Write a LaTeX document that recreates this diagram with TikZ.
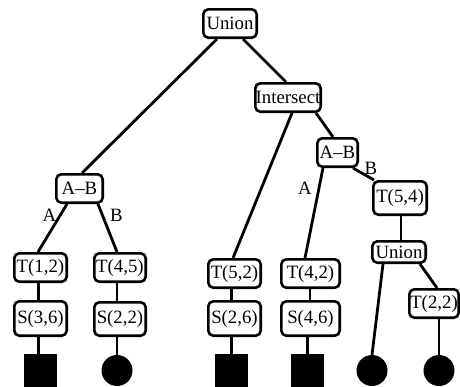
\documentclass[tikz,border=0pt]{standalone}
\usepackage{fontspec}
\setmainfont{Liberation Serif}
\tikzset{
  box/.style={draw, rounded corners=5pt, line width=2.6pt, inner sep=0pt,
    font=\fontsize{18.8}{21}\selectfont, fill=white},
  lbl/.style={inner sep=0pt, font=\fontsize{18.8}{21}\selectfont},
  edge/.style={line width=2.8pt},
  sqleaf/.style={fill=black, inner sep=0pt, minimum size=33pt},
  cleaf/.style={circle, fill=black, inner sep=0pt, minimum size=31pt}
}
\begin{document}
\begin{tikzpicture}[x=1pt,y=-1pt]
\useasboundingbox (0,0) rectangle (460,386);
% internal nodes
\node[box, minimum width=53.4pt, minimum height=28.4pt] (u1) at (230,23.5) {Union};
\node[box, minimum width=65.4pt, minimum height=28.4pt] (is) at (288,97.5) {Intersect};
\node[box, minimum width=46.4pt, minimum height=28.4pt] (ab1) at (79.5,188.5) {A–B};
\node[box, minimum width=40.4pt, minimum height=28.4pt] (ab2) at (337.5,152.5) {A–B};
\node[box, minimum width=53.4pt, minimum height=33.4pt] (t54) at (400,198) {T(5,4)};
\node[box, minimum width=53.4pt, minimum height=21.4pt] (u2) at (399,252) {Union};
\node[box, minimum width=49.4pt, minimum height=28.4pt] (t22) at (434,303.5) {T(2,2)};
\node[box, minimum width=52.4pt, minimum height=28.4pt] (t12) at (40.5,267.5) {T(1,2)};
\node[box, minimum width=52.4pt, minimum height=34.4pt] (s36) at (40.5,318.5) {S(3,6)};
\node[box, minimum width=51.4pt, minimum height=28.4pt] (t45) at (120,267.5) {T(4,5)};
\node[box, minimum width=51.4pt, minimum height=33.4pt] (s22) at (120,319) {S(2,2)};
\node[box, minimum width=52.4pt, minimum height=28.4pt] (t52) at (234.5,273.5) {T(5,2)};
\node[box, minimum width=52.4pt, minimum height=34.4pt] (s26) at (234.5,318.5) {S(2,6)};
\node[box, minimum width=58.4pt, minimum height=28.4pt] (t42) at (310.5,273.5) {T(4,2)};
\node[box, minimum width=58.4pt, minimum height=34.4pt] (s46) at (310.5,318.5) {S(4,6)};
% leaves
\node[sqleaf] (sq1) at (40.5,370.5) {};
\node[cleaf] (c1) at (117,370.5) {};
\node[sqleaf] (sq2) at (231.5,370.5) {};
\node[sqleaf] (sq3) at (307.5,370.5) {};
\node[cleaf] (c2) at (372,370.5) {};
\node[cleaf] (c3) at (439,370.5) {};
% connectors
\draw[edge] ([xshift=-13pt]u1.south) -- ([xshift=2.5pt]ab1.north);
\draw[edge] ([xshift=13pt]u1.south) -- ([xshift=-2pt]is.north);
\draw[edge] ([xshift=4pt]is.south) -- ([xshift=-1.5pt]t52.north);
\draw[edge] ([xshift=28pt]is.south) -- ([xshift=-4.5pt]ab2.north);
\draw[edge] ([xshift=-14.5pt]ab2.south) -- ([xshift=-5.5pt]t42.north);
\draw[edge] ([xshift=15.5pt]ab2.south) -- ([xshift=-26pt]t54.north);
\draw[edge] ([xshift=1pt]t54.south) -- ([xshift=2pt]u2.north);
\draw[edge] ([xshift=-16pt]u2.south) -- (c2.north);
\draw[edge] ([xshift=21pt]u2.south) -- ([xshift=3pt]t22.north);
\draw[edge] (c3.north |- t22.south) -- (c3.north);
\draw[edge] ([xshift=-12.5pt]ab1.south) -- ([xshift=-2.5pt]t12.north);
\draw[edge] ([xshift=18.5pt]ab1.south) -- ([xshift=-3pt]t45.north);
\draw[edge] ([xshift=-2pt]t12.south) -- ([xshift=-2pt]s36.north);
\draw[edge] ([xshift=-2pt]s36.south) -- ([xshift=-2pt]sq1.north);
\draw[edge] (c1.north |- t45.south) -- (c1.north |- s22.north);
\draw[edge] (c1.north |- s22.south) -- (c1.north);
\draw[edge] (sq2.north |- t52.south) -- (sq2.north |- s26.north);
\draw[edge] (sq2.north |- s26.south) -- (sq2.north);
\draw[edge] ([xshift=-0.5pt]t42.south) -- ([xshift=-0.5pt]s46.north);
\draw[edge] (sq3.north |- s46.south) -- (sq3.north);
% edge labels
\node[lbl] (la1) at (49.5,215.5) {A};
\node[lbl] (lb1) at (116.5,215.5) {B};
\node[lbl] (la2) at (305,188) {A};
\node[lbl] (lb2) at (371,168.5) {B};
\end{tikzpicture}
\end{document}
